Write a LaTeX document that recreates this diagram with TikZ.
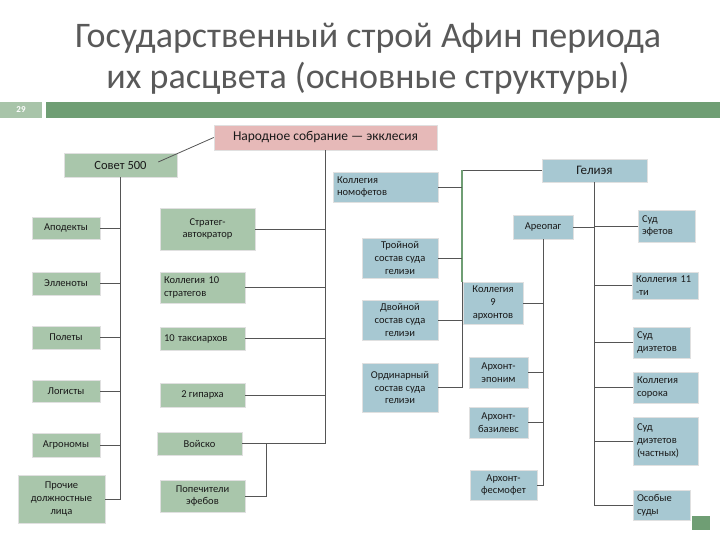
\documentclass[tikz,border=0pt]{standalone}
\usepackage{fontspec}
\setmainfont{Carlito}
\usepackage{xcolor}
\usepackage{tikz}
\usetikzlibrary{calc, positioning}

\definecolor{boxgreen}{HTML}{A9C6AB}
\definecolor{boxblue}{HTML}{A7C8D2}
\definecolor{boxpink}{HTML}{E6B9B8}
\definecolor{bargreen}{HTML}{6F9E74}
\definecolor{numgreen}{HTML}{A8C4A9}
\definecolor{titlegray}{HTML}{595959}
\definecolor{linegray}{HTML}{555555}

\begin{document}
\begin{tikzpicture}[
    x=1pt, y=-1pt,
    box/.style={rectangle, draw=black!12, line width=0.5pt, inner sep=2pt, align=center, text=black!90, font=\fontsize{10.5}{12.8}\selectfont},
    gbox/.style={box, fill=boxgreen},
    bbox/.style={box, fill=boxblue},
    sz/.style 2 args={minimum width=#1pt, minimum height=#2pt},
    lsz/.style 2 args={text width=#1pt, minimum height=#2pt, align=left, inner xsep=4pt},
    link/.style={draw=linegray, line width=0.8pt},
    title/.style={align=center, text=titlegray, font=\fontsize{36}{41}\selectfont}
]
\useasboundingbox (0,0) rectangle (720,540);

% heading
\node[title] (ttl) at (368,59) {Государственный строй Афин периода\\их расцвета (основные структуры)};
\node[fill=numgreen, sz={42}{16}, inner sep=0pt, text=white, font=\fontsize{9}{10}\selectfont\bfseries] (num) at (21,110) {29};
\fill[bargreen] (46,102) rectangle (720,118);

% assembly and council
\node[box, fill=boxpink, sz={223}{25}, font=\fontsize{13.5}{15}\selectfont] (ekk) at (325.5,137.5) {Народное собрание — экклесия};
\node[gbox, sz={113}{24}, font=\fontsize{12.5}{15}\selectfont] (sovet) at (120.5,165) {Совет 500};

% officials of the council
\node[gbox, sz={68}{22}] (apod) at (66,228) {Аподекты};
\node[gbox, sz={68}{23}] (ellen) at (66,283.5) {Элленоты};
\node[gbox, sz={68}{23}] (polet) at (66,337.5) {Полеты};
\node[gbox, sz={68}{22}] (logist) at (66,391) {Логисты};
\node[gbox, sz={68}{24}] (agron) at (66,445) {Агрономы};
\node[gbox, sz={87}{48}] (proch) at (61.5,499) {Прочие\\должностные\\лица};

% military
\node[gbox, sz={95}{42}] (strat) at (207.5,229) {Стратег-\\автократор};
\node[gbox, lsz={77}{31}] (koll10) at (202.5,287.5) {Коллегия 10\\стратегов};
\node[gbox, lsz={77}{23}] (taks) at (202.5,338.5) {10 таксиархов};
\node[gbox, sz={85}{24}] (gipp) at (202.5,395) {2 гипарха};
\node[gbox, sz={85}{23}] (voisko) at (199.5,443.5) {Войско};
\node[gbox, sz={85}{32}] (popech) at (202.5,496) {Попечители\\эфебов};

% courts of the heliaia
\node[bbox, lsz={97}{30}] (nomofet) at (385.5,187) {Коллегия\\номофетов};
\node[bbox, sz={76}{40}] (troin) at (400,258) {Тройной\\состав суда\\гелиэи};
\node[bbox, sz={76}{40}] (dvoin) at (400,320) {Двойной\\состав суда\\гелиэи};
\node[bbox, sz={76}{49}] (ordin) at (400,387.5) {Ординарный\\состав суда\\гелиэи};

\node[bbox, sz={105}{23}, font=\fontsize{13}{15}\selectfont] (helia) at (594.5,170.5) {Гелиэя};

% archons
\node[bbox, sz={60}{24}] (areopag) at (543,227) {Ареопаг};
\node[bbox, sz={60}{42}] (koll9) at (493,303) {Коллегия\\9\\архонтов};
\node[bbox, sz={59}{31}] (eponym) at (498.5,372.5) {Архонт-\\эпоним};
\node[bbox, sz={59}{31}] (basil) at (498.5,422.5) {Архонт-\\базилевс};
\node[bbox, sz={67}{30}] (fesmo) at (503.5,485) {Архонт-\\фесмофет};

% other courts
\node[bbox, lsz={49}{32}] (efet) at (666.5,226) {Суд\\эфетов};
\node[bbox, lsz={58}{27}] (k11) at (665,285.5) {Коллегия 11\\-ти};
\node[bbox, lsz={49}{31}] (dieth) at (661.5,342.5) {Суд\\диэтетов};
\node[bbox, lsz={57}{31}] (sorok) at (665.5,387.5) {Коллегия\\сорока};
\node[bbox, lsz={57}{48}] (diethp) at (665.5,441) {Суд\\диэтетов\\(частных)};
\node[bbox, lsz={49}{30}] (osob) at (661.5,505) {Особые\\суды};

\coordinate (gtop) at (462,170.5);

% connectors
\draw[link] ($(sovet.east)+(-19,-3)$) -- (ekk.west);

\draw[link] (sovet.south) -- (sovet.south |- proch.east) -- (proch.east);
\foreach \n in {apod, ellen, polet, logist, agron}
    \draw[link] (\n.east) -- (\n.east -| sovet.south);

\draw[link] (ekk.south) -- (ekk.south |- voisko.east) -- (voisko.east);
\foreach \n in {strat, koll10, taks, gipp}
    \draw[link] (\n.east) -- (\n.east -| ekk.south);
\draw[link] (popech.east) -- ++(21,0) |- (voisko.east);

\draw[link] (helia.west) -- (gtop);
\draw[link] (gtop |- koll9.north) -- (gtop |- ordin.east);
\draw[draw=bargreen, line width=2.5pt] (gtop) -- (gtop |- koll9.north);
\foreach \n in {nomofet, troin, dvoin, ordin}
    \draw[link] (\n.east) -- (\n.east -| gtop);

\draw[link] (helia.south) -- (helia.south |- osob.west) -- (osob.west);
\foreach \n in {efet, k11, dieth, sorok, diethp}
    \draw[link] (\n.west) -- (\n.west -| helia.south);
\draw[link] (areopag.east) -- (areopag.east -| helia.south);

\draw[link] (areopag.south) -- (areopag.south |- fesmo.east) -- (fesmo.east);
\foreach \n in {koll9, eponym, basil}
    \draw[link] (\n.east) -- (\n.east -| areopag.south);

% slide corner mark
\fill[bargreen] (692,516) rectangle (710,530);

\end{tikzpicture}
\end{document}
